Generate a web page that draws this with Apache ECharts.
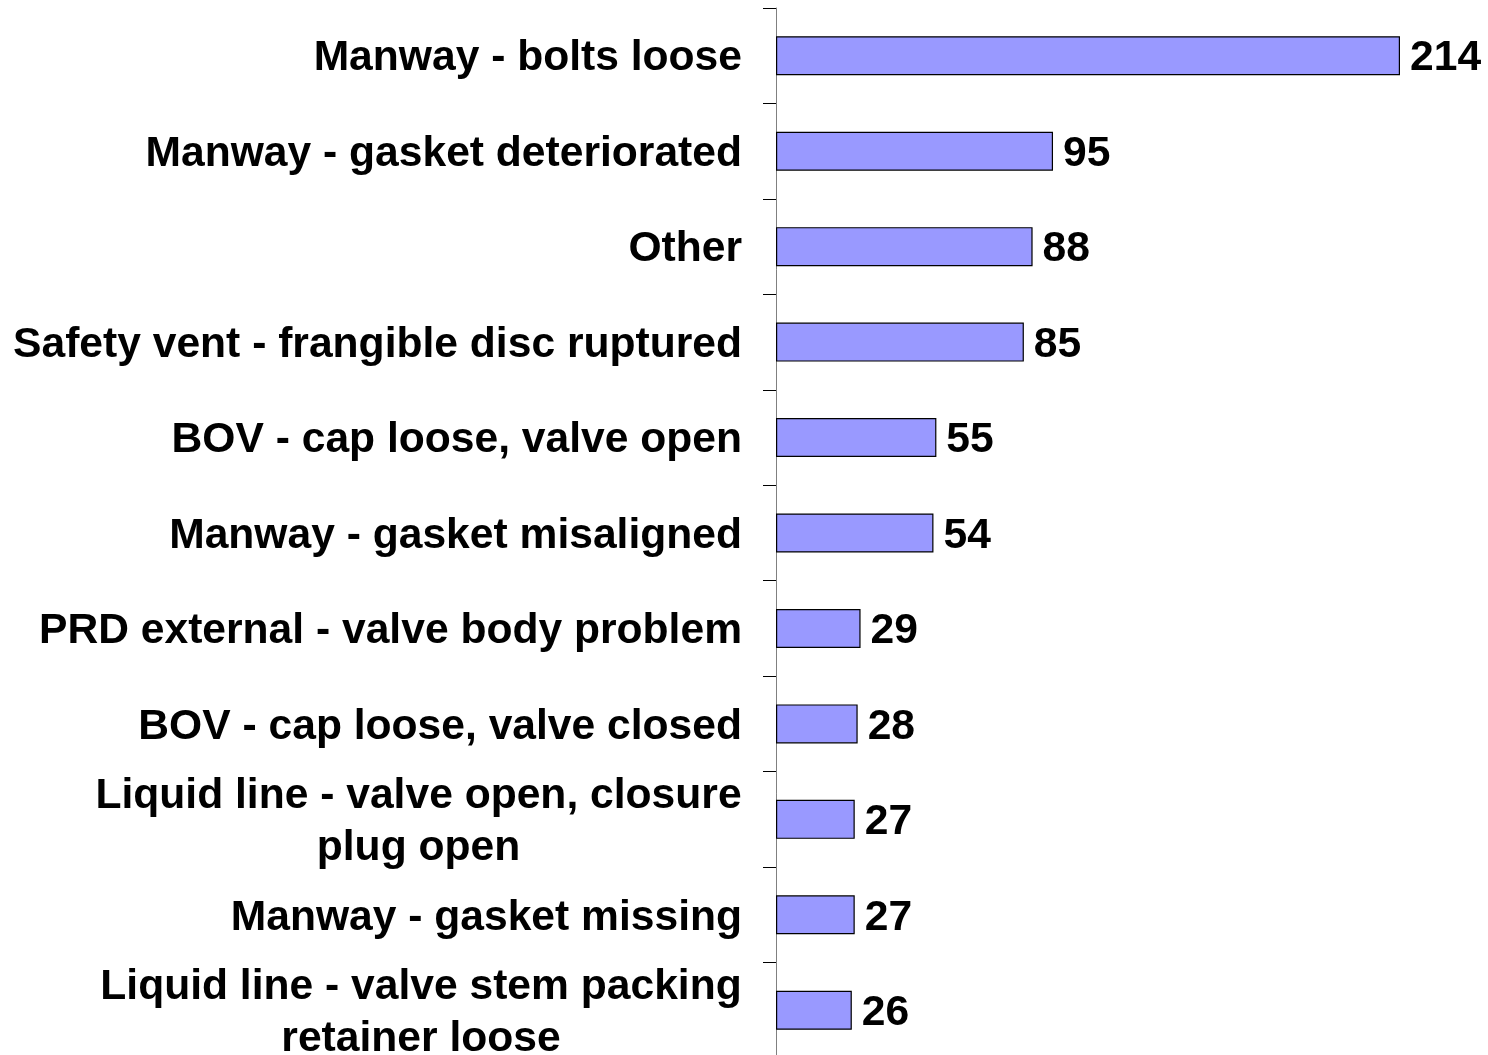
<!DOCTYPE html>
<html>
<head>
<meta charset="utf-8">
<script src="https://cdn.jsdelivr.net/npm/echarts@6/dist/echarts.min.js"></script>
<style>
  html, body { margin: 0; padding: 0; background: #fff; }
  #chart { width: 1488px; height: 1055px; }
</style>
</head>
<body>
<div id="chart"></div>
<script>
// categories, top to bottom
const categories = [
  'Manway - bolts loose',
  'Manway - gasket deteriorated',
  'Other',
  'Safety vent - frangible disc ruptured',
  'BOV - cap loose, valve open',
  'Manway - gasket misaligned',
  'PRD external - valve body problem',
  'BOV - cap loose, valve closed',
  'Liquid line - valve open, closure\nplug open',
  'Manway - gasket missing',
  'Liquid line - valve stem packing\nretainer loose'
];
const counts = [214, 95, 88, 85, 55, 54, 29, 28, 27, 27, 26];

const FONT = '"Liberation Sans", Arial, sans-serif';
const FONT_SIZE = 42.6;

// measure text so wrapped labels can center their lines under the first one
const ctx = document.createElement('canvas').getContext('2d');
ctx.font = 'bold ' + FONT_SIZE + 'px ' + FONT;
function textWidth(s) { return Math.ceil(ctx.measureText(s).width); }

// one rich style per wrapped label, sized to its widest line
const rich = {};
const wrapKey = {};
categories.forEach(function (c, i) {
  if (c.indexOf('\n') < 0) return;
  const w = Math.max.apply(null, c.split('\n').map(textWidth));
  wrapKey[c] = 'w' + i;
  rich['w' + i] = {
    align: 'center',
    width: w,
    color: '#000',
    fontFamily: FONT,
    fontWeight: 'bold',
    fontSize: FONT_SIZE,
    lineHeight: 52
  };
});

const chart = echarts.init(document.getElementById('chart'));

chart.setOption({
  animation: false,
  grid: { left: 776, top: 8, right: 88, height: 1050, outerBoundsMode: 'none' },
  xAxis: {
    type: 'value',
    min: 0,
    max: 214,
    show: false
  },
  yAxis: {
    type: 'category',
    inverse: true,
    data: categories,
    axisLine: { show: true, lineStyle: { color: '#808080', width: 1 } },
    axisTick: { show: true, length: 13, lineStyle: { color: '#000', width: 1 } },
    axisLabel: {
      margin: 34,
      padding: [6, 0, 0, 0],
      color: '#000',
      fontFamily: FONT,
      fontWeight: 'bold',
      fontSize: FONT_SIZE,
      lineHeight: 52,
      formatter: function (v) {
        const k = wrapKey[v];
        if (!k) return v;
        return v.split('\n').map(function (l) { return '{' + k + '|' + l + '}'; }).join('\n');
      },
      rich: rich
    }
  },
  series: [{
    type: 'bar',
    data: counts,
    barWidth: 39,
    itemStyle: { color: '#9999FF', borderColor: '#000', borderWidth: 1.2 },
    label: {
      show: true,
      position: 'right',
      distance: 10,
      offset: [0, 3],
      color: '#000',
      fontFamily: FONT,
      fontWeight: 'bold',
      fontSize: FONT_SIZE
    }
  }]
});
</script>
</body>
</html>
